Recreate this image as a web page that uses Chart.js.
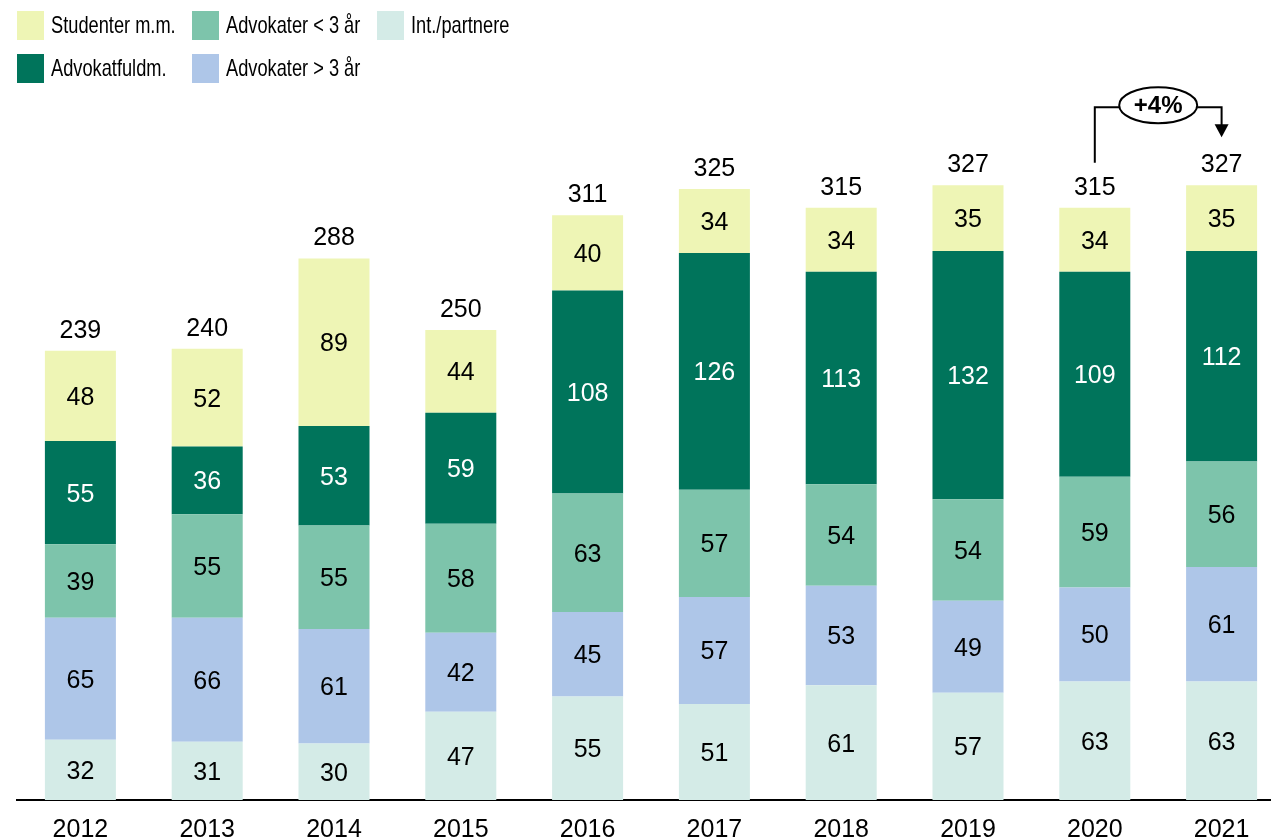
<!DOCTYPE html>
<html>
<head>
<meta charset="utf-8">
<script src="https://cdn.jsdelivr.net/npm/chart.js@4/dist/chart.umd.min.js"></script>
<style>
  html, body { margin: 0; padding: 0; background: #fff; overflow: hidden; }
  #chart { position: absolute; left: 0; top: 0; }
</style>
</head>
<body>
<canvas id="chart" width="1290" height="838"></canvas>
<script>
// Years on the x axis
const years = ['2012', '2013', '2014', '2015', '2016', '2017', '2018', '2019', '2020', '2021'];

// Series, bottom of the stack first
const intPartnere = [32, 31, 30, 47, 55, 51, 61, 57, 63, 63];
const advOver3 = [65, 66, 61, 42, 45, 57, 53, 49, 50, 61];
const advUnder3 = [39, 55, 55, 58, 63, 57, 54, 54, 59, 56];
const fuldmaegtige = [55, 36, 53, 59, 108, 126, 113, 132, 109, 112];
const studenter = [48, 52, 89, 44, 40, 34, 34, 35, 34, 35];

// Totals printed above each bar
const totals = [239, 240, 288, 250, 311, 325, 315, 327, 315, 327];

// Growth callout between the last two years
const growthLabel = '+4%';

const FONT = '"Liberation Sans", Arial, sans-serif';

const datasets = [
    { label: 'Int./partnere', data: intPartnere, backgroundColor: '#d4ebe7', textColor: '#000' },
    { label: 'Advokater > 3 år', data: advOver3, backgroundColor: '#aec6e8', textColor: '#000' },
    { label: 'Advokater < 3 år', data: advUnder3, backgroundColor: '#7dc4ab', textColor: '#000' },
    { label: 'Advokatfuldm.', data: fuldmaegtige, backgroundColor: '#00745b', textColor: '#fff' },
    { label: 'Studenter m.m.', data: studenter, backgroundColor: '#eef5b5', textColor: '#000' }
];

// Legend is laid out column by column, like the original
const legendLayout = [
    { label: 'Studenter m.m.', col: 0, row: 0 },
    { label: 'Advokatfuldm.', col: 0, row: 1 },
    { label: 'Advokater < 3 år', col: 1, row: 0 },
    { label: 'Advokater > 3 år', col: 1, row: 1 },
    { label: 'Int./partnere', col: 2, row: 0 }
];

const legendPlugin = {
    id: 'columnLegend',
    afterDraw(chart) {
        const ctx = chart.ctx;
        const colX = [17, 192, 377];
        const rowY = [11, 54];
        ctx.save();
        legendLayout.forEach(item => {
            const ds = chart.data.datasets.find(d => d.label === item.label);
            const x = colX[item.col];
            const y = rowY[item.row];
            ctx.fillStyle = ds.backgroundColor;
            ctx.fillRect(x, y, 27, 29);
            ctx.save();
            ctx.translate(x + 34, y + 15);
            ctx.scale(0.76, 1);
            ctx.fillStyle = '#000';
            ctx.font = '24px ' + FONT;
            ctx.textBaseline = 'middle';
            ctx.textAlign = 'left';
            ctx.fillText(item.label, 0, 0);
            ctx.restore();
        });
        ctx.restore();
    }
};

const labelPlugin = {
    id: 'barLabels',
    afterDatasetsDraw(chart) {
        const ctx = chart.ctx;
        ctx.save();
        ctx.font = '25px ' + FONT;
        ctx.textAlign = 'center';
        ctx.textBaseline = 'middle';
        chart.data.datasets.forEach((ds, i) => {
            const meta = chart.getDatasetMeta(i);
            ctx.fillStyle = ds.textColor;
            meta.data.forEach((bar, j) => {
                ctx.fillText(String(ds.data[j]), bar.x, (bar.y + bar.base) / 2 + 2);
            });
        });
        const topMeta = chart.getDatasetMeta(chart.data.datasets.length - 1);
        ctx.fillStyle = '#000';
        topMeta.data.forEach((bar, j) => {
            ctx.fillText(String(totals[j]), bar.x, bar.y - 20);
        });
        ctx.restore();
    }
};

const growthPlugin = {
    id: 'growthArrow',
    afterDraw(chart) {
        const ctx = chart.ctx;
        const xs = chart.scales.x, ys = chart.scales.y;
        const n = years.length;
        const x1 = xs.getPixelForValue(n - 2);
        const x2 = xs.getPixelForValue(n - 1);
        const y1 = ys.getPixelForValue(totals[n - 2]) - 45;
        const y2 = ys.getPixelForValue(totals[n - 1]) - 48;
        const topY = ys.getPixelForValue(Math.max(totals[n - 2], totals[n - 1])) - 78;
        const cx = (x1 + x2) / 2, cy = topY - 2;
        const rx = 39, ry = 18;
        ctx.save();
        ctx.strokeStyle = '#000';
        ctx.lineWidth = 2;
        ctx.beginPath();
        ctx.moveTo(x1, y1);
        ctx.lineTo(x1, topY);
        ctx.lineTo(cx - rx, topY);
        ctx.moveTo(cx + rx, topY);
        ctx.lineTo(x2, topY);
        ctx.lineTo(x2, y2 - 12);
        ctx.stroke();
        ctx.fillStyle = '#000';
        ctx.beginPath();
        ctx.moveTo(x2 - 7, y2 - 13);
        ctx.lineTo(x2 + 7, y2 - 13);
        ctx.lineTo(x2, y2);
        ctx.closePath();
        ctx.fill();
        ctx.beginPath();
        ctx.ellipse(cx, cy, rx, ry, 0, 0, Math.PI * 2);
        ctx.fillStyle = '#fff';
        ctx.fill();
        ctx.stroke();
        ctx.fillStyle = '#000';
        ctx.font = 'bold 24px ' + FONT;
        ctx.textAlign = 'center';
        ctx.textBaseline = 'middle';
        ctx.fillText(growthLabel, cx, cy + 1);
        ctx.restore();
    }
};

new Chart(document.getElementById('chart'), {
    type: 'bar',
    data: {
        labels: years,
        datasets: datasets.map(d => ({
            label: d.label,
            data: d.data,
            backgroundColor: d.backgroundColor,
            textColor: d.textColor,
            borderWidth: 0,
            barPercentage: 0.56,
            categoryPercentage: 1
        }))
    },
    options: {
        responsive: false,
        animation: false,
        layout: { padding: { top: 48, left: 17, right: 5, bottom: 0 } },
        plugins: {
            legend: { display: false },
            tooltip: { enabled: false }
        },
        scales: {
            x: {
                stacked: true,
                grid: { display: false, drawTicks: false },
                border: { display: true, color: '#000', width: 2 },
                ticks: { color: '#000', font: { family: FONT, size: 25 }, padding: 15 },
                afterFit(scale) { scale.height = 38; }
            },
            y: {
                stacked: true,
                display: false,
                min: 0,
                max: 400
            }
        }
    },
    plugins: [legendPlugin, labelPlugin, growthPlugin]
});
</script>
</body>
</html>
